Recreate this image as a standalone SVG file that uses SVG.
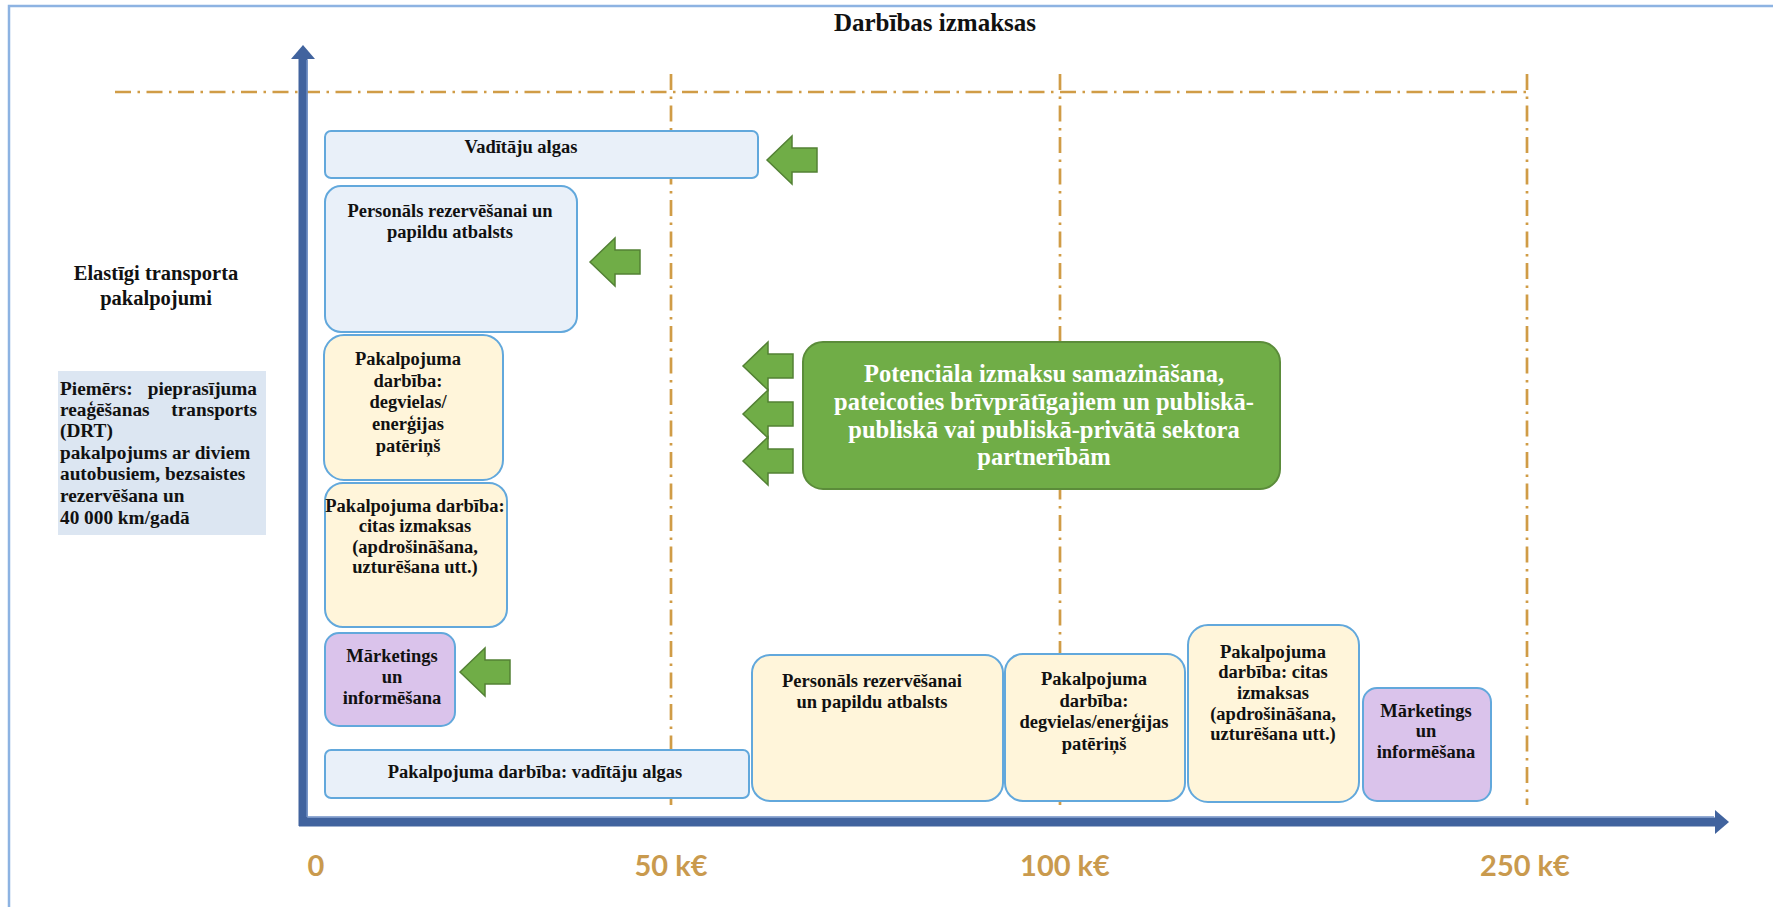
<svg xmlns="http://www.w3.org/2000/svg" xmlns:xlink="http://www.w3.org/1999/xlink" width="1773" height="907" viewBox="0 0 1773 907">
<style>
.t{font-family:"Liberation Serif","Times New Roman",serif;font-weight:bold;font-size:18.5px;fill:#111;text-anchor:middle}
.tl{font-family:"Liberation Serif","Times New Roman",serif;font-weight:bold;font-size:19.3px;fill:#111}
.tw{font-family:"Liberation Serif","Times New Roman",serif;font-weight:bold;font-size:24.5px;fill:#fff;text-anchor:middle}
.ax{font-family:Lato,"Open Sans",sans-serif;font-weight:bold;font-size:29px;fill:#c99a4e;text-anchor:middle}
.blue{fill:#e9f0f9;stroke:#62a8dc;stroke-width:2}
.cream{fill:#fff5da;stroke:#62a8dc;stroke-width:2}
.purple{fill:#dac3eb;stroke:#62a8dc;stroke-width:2}
.guide{stroke:#d09c46;stroke-width:2.7;fill:none;stroke-dasharray:16 6.5 2.5 6.5}
.axis{stroke:#41639e;stroke-width:9;fill:none}
.arr{fill:#70ad47;stroke:#538135;stroke-width:1.5}
</style>
<defs>
<path id="garrow" class="arr" d="M0,0 L25,-24 L25,-12 L50,-12 L50,12 L25,12 L25,24 Z"/>
</defs>
<rect width="1773" height="907" fill="#fff"/>
<g id="frame">
<path d="M9,907 L9,6 L1773,6" fill="none" stroke="#8db3e2" stroke-width="2.5"/>
</g>
<text id="title" x="935" y="31" class="t" style="font-size:25px">Darbības izmaksas</text>
<g id="guides">
<line class="guide" x1="115" y1="92" x2="1527" y2="92"/>
<line class="guide" x1="671" y1="74" x2="671" y2="805"/>
<line class="guide" x1="1060" y1="74" x2="1060" y2="805"/>
<line class="guide" x1="1527" y1="74" x2="1527" y2="805"/>
</g>
<g id="axes">
<line class="axis" x1="303" y1="56" x2="303" y2="826"/>
<line class="axis" x1="299" y1="822" x2="1717" y2="822"/>
<polygon points="303,45 315,59 291,59" fill="#41639e"/>
<polygon points="1729,822 1715,810 1715,834" fill="#41639e"/>
<line x1="307" y1="60" x2="307" y2="817" stroke="#6f8fc4" stroke-width="1.5"/>
<line x1="308" y1="817" x2="1714" y2="817" stroke="#6f8fc4" stroke-width="1.5"/>
</g>
<g id="axis-labels">
<text class="ax" x="316" y="876">0</text>
<text class="ax" x="671" y="876">50 k€</text>
<text class="ax" x="1065" y="876">100 k€</text>
<text class="ax" x="1525" y="876">250 k€</text>
</g>
<g id="left-label">
<text class="t" x="156" y="280" style="font-size:20.5px">Elastīgi transporta</text>
<text class="t" x="156" y="305" style="font-size:20.5px">pakalpojumi</text>
</g>
<g id="example">
<rect x="58" y="371" width="208" height="164" fill="#dce6f2"/>
<text class="tl" x="60" y="395">Piemērs:</text>
<text class="tl" x="257" y="395" text-anchor="end">pieprasījuma</text>
<text class="tl" x="60" y="416">reaģēšanas</text>
<text class="tl" x="257" y="416" text-anchor="end">transports</text>
<text class="tl" x="60" y="437">(DRT)</text>
<text class="tl" x="60" y="459">pakalpojums ar diviem</text>
<text class="tl" x="60" y="480">autobusiem, bezsaistes</text>
<text class="tl" x="60" y="502">rezervēšana un</text>
<text class="tl" x="60" y="524">40 000 km/gadā</text>
</g>
<g id="n-vaditaju-algas">
<rect class="blue" x="325" y="131" width="433" height="47" rx="6"/>
<text class="t" x="521" y="153">Vadītāju algas</text>
</g>
<g id="n-personals-1">
<rect class="blue" x="325" y="186" width="252" height="146" rx="16"/>
<text class="t" x="450" y="217">Personāls rezervēšanai un</text>
<text class="t" x="450" y="238">papildu atbalsts</text>
</g>
<g id="n-degvielas-1">
<rect class="cream" x="324" y="335" width="179" height="145" rx="20"/>
<text class="t" x="408" y="365">Pakalpojuma</text>
<text class="t" x="408" y="387">darbība:</text>
<text class="t" x="408" y="408">degvielas/</text>
<text class="t" x="408" y="430">enerģijas</text>
<text class="t" x="408" y="452">patēriņš</text>
</g>
<g id="n-citas-1">
<rect class="cream" x="325" y="483" width="182" height="144" rx="18"/>
<text class="t" x="415" y="512">Pakalpojuma darbība:</text>
<text class="t" x="415" y="532">citas izmaksas</text>
<text class="t" x="415" y="553">(apdrošināšana,</text>
<text class="t" x="415" y="573">uzturēšana utt.)</text>
</g>
<g id="n-marketings-1">
<rect class="purple" x="325" y="633" width="130" height="93" rx="14"/>
<text class="t" x="392" y="662">Mārketings</text>
<text class="t" x="392" y="683">un</text>
<text class="t" x="392" y="704">informēšana</text>
</g>
<g id="n-vaditaju-algas-2">
<rect class="blue" x="325" y="750" width="424" height="48" rx="6"/>
<text class="t" x="535" y="778">Pakalpojuma darbība: vadītāju algas</text>
</g>
<g id="n-personals-2">
<rect class="cream" x="752" y="655" width="251" height="146" rx="18"/>
<text class="t" x="872" y="687">Personāls rezervēšanai</text>
<text class="t" x="872" y="708">un papildu atbalsts</text>
</g>
<g id="n-degvielas-2">
<rect class="cream" x="1005" y="654" width="180" height="147" rx="18"/>
<text class="t" x="1094" y="685">Pakalpojuma</text>
<text class="t" x="1094" y="707">darbība:</text>
<text class="t" x="1094" y="728">degvielas/enerģijas</text>
<text class="t" x="1094" y="750">patēriņš</text>
</g>
<g id="n-citas-2">
<rect class="cream" x="1188" y="625" width="171" height="177" rx="20"/>
<text class="t" x="1273" y="658">Pakalpojuma</text>
<text class="t" x="1273" y="678">darbība: citas</text>
<text class="t" x="1273" y="699">izmaksas</text>
<text class="t" x="1273" y="720">(apdrošināšana,</text>
<text class="t" x="1273" y="740">uzturēšana utt.)</text>
</g>
<g id="n-marketings-2">
<rect class="purple" x="1363" y="688" width="128" height="113" rx="14"/>
<text class="t" x="1426" y="717">Mārketings</text>
<text class="t" x="1426" y="737">un</text>
<text class="t" x="1426" y="758">informēšana</text>
</g>
<g id="n-potenciala">
<rect x="803" y="342" width="477" height="147" rx="20" fill="#70ad47" stroke="#5b8c3a" stroke-width="2"/>
<text class="tw" x="1044" y="382">Potenciāla izmaksu samazināšana,</text>
<text class="tw" x="1044" y="410">pateicoties brīvprātīgajiem un publiskā-</text>
<text class="tw" x="1044" y="438">publiskā vai publiskā-privātā sektora</text>
<text class="tw" x="1044" y="465">partnerībām</text>
</g>
<g id="connectors">
<use xlink:href="#garrow" transform="translate(767,160)"/>
<use xlink:href="#garrow" transform="translate(590,262)"/>
<use xlink:href="#garrow" transform="translate(743,366)"/>
<use xlink:href="#garrow" transform="translate(743,414)"/>
<use xlink:href="#garrow" transform="translate(743,461)"/>
<use xlink:href="#garrow" transform="translate(460,672)"/>
</g>
</svg>
